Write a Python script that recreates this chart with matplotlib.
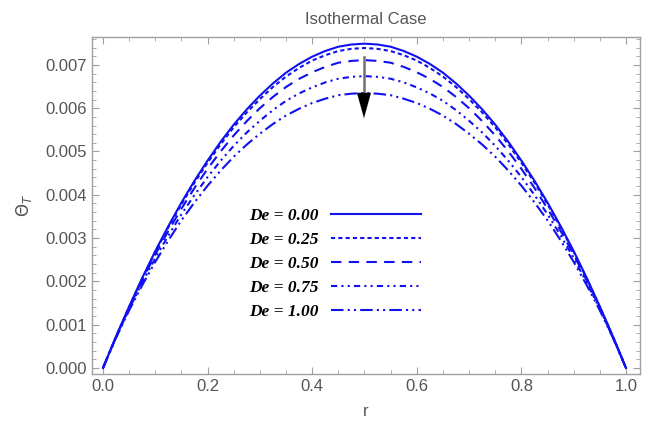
import matplotlib
matplotlib.use("Agg")
import matplotlib.pyplot as plt
from matplotlib.ticker import MultipleLocator

r = [0.000, 0.025, 0.050, 0.075, 0.100, 0.125, 0.150, 0.175, 0.200, 0.225,
     0.250, 0.275, 0.300, 0.325, 0.350, 0.375, 0.400, 0.425, 0.450, 0.475,
     0.500, 0.525, 0.550, 0.575, 0.600, 0.625, 0.650, 0.675, 0.700, 0.725,
     0.750, 0.775, 0.800, 0.825, 0.850, 0.875, 0.900, 0.925, 0.950, 0.975, 1.000]

# values from r = 0 to r = 0.5 (profiles are symmetric about r = 0.5)
half_de000 = [0, 0.000730, 0.00142, 0.002078, 0.00270, 0.003277, 0.00382, 0.004325, 0.00479, 0.005224,
              0.00562, 0.005973, 0.00629, 0.006572, 0.00682, 0.007022, 0.00719, 0.007321, 0.00742, 0.007471, 0.00749]
half_de025 = [0, 0.000727, 0.00141, 0.002063, 0.00268, 0.003248, 0.00378, 0.004281, 0.00474, 0.005166,
              0.00556, 0.005902, 0.00621, 0.006490, 0.00673, 0.006931, 0.00710, 0.007224, 0.00732, 0.007371, 0.00739]
half_de050 = [0, 0.000718, 0.00139, 0.002022, 0.00262, 0.003167, 0.00368, 0.004158, 0.00460, 0.005003,
              0.00537, 0.005702, 0.00600, 0.006260, 0.00649, 0.006677, 0.00683, 0.006954, 0.00705, 0.007092, 0.00711]
half_de075 = [0, 0.000707, 0.00136, 0.001968, 0.00254, 0.003060, 0.00355, 0.003996, 0.00441, 0.004787,
              0.00513, 0.005439, 0.00571, 0.005956, 0.00617, 0.006341, 0.00648, 0.006596, 0.00668, 0.006724, 0.00674]
half_de100 = [0, 0.000695, 0.00133, 0.001911, 0.00245, 0.002947, 0.00341, 0.003825, 0.00421, 0.004560,
              0.00488, 0.005161, 0.00541, 0.005635, 0.00583, 0.005987, 0.00612, 0.006219, 0.00630, 0.006335, 0.00635]

def mirror(h):
    return h + h[-2::-1]

theta_de000 = mirror(half_de000)
theta_de025 = mirror(half_de025)
theta_de050 = mirror(half_de050)
theta_de075 = mirror(half_de075)
theta_de100 = mirror(half_de100)

labels = ["De = 0.00", "De = 0.25", "De = 0.50", "De = 0.75", "De = 1.00"]
series = [theta_de000, theta_de025, theta_de050, theta_de075, theta_de100]
styles = ["-", (0, (2, 1.5)), (0, (5, 3.5)), (0, (3, 2, 1, 2, 1, 2)), (0, (6, 2, 1, 2, 1, 2))]

fig = plt.figure(figsize=(6.51, 4.21), dpi=100)
ax = fig.add_axes([92/651, 1-374/421, (640-92)/651, (374-37)/421])

blue = "#1010f0"
handles = []
for y, lab, ls in zip(series, labels, styles):
    h, = ax.plot(r, y, color=blue, lw=1.5, linestyle=ls, label=lab)
    handles.append(h)

ax.set_xlim(-0.021, 1.0268)
ax.set_ylim(-0.000139, 0.007644)

frame_c = "#a0a0a0"
text_c = "#555555"
for s in ax.spines.values():
    s.set_color(frame_c)
    s.set_linewidth(1.0)

ax.xaxis.set_major_locator(MultipleLocator(0.2))
ax.xaxis.set_minor_locator(MultipleLocator(0.05))
ax.yaxis.set_major_locator(MultipleLocator(0.001))
ax.yaxis.set_minor_locator(MultipleLocator(0.0002))
ax.xaxis.set_major_formatter(plt.FuncFormatter(lambda v, p: f"{v:.1f}"))
ax.yaxis.set_major_formatter(plt.FuncFormatter(lambda v, p: f"{v:.3f}"))
ax.tick_params(which="both", direction="in", top=True, right=True, color=frame_c,
               labelcolor=text_c, labelsize=12)
ax.tick_params(which="major", length=5)
ax.tick_params(which="minor", length=3)
for lab in ax.get_xticklabels() + ax.get_yticklabels():
    lab.set_fontfamily("Liberation Sans")

ax.set_title("Isothermal Case", color=text_c, fontsize=12, family="Liberation Sans", pad=9)
ax.set_xlabel("r", color=text_c, fontsize=12, family="Liberation Sans", labelpad=7)
ax.set_ylabel(r"$\Theta_T$", color=text_c, fontsize=12, labelpad=8)

# arrow
ax.plot([0.499, 0.499], [0.00718, 0.0062], color="#707070", lw=1.8)
ax.annotate("", xy=(0.499, 0.00577), xytext=(0.499, 0.0063),
            arrowprops=dict(arrowstyle="-|>,head_length=0.9,head_width=0.25",
                            color="black", mutation_scale=20, shrinkA=0, shrinkB=0, lw=0.1))

leg = ax.legend(handles=handles, labels=labels, markerfirst=False, frameon=False,
                loc="center", bbox_to_anchor=(0.444, 0.326),
                prop=dict(family="Liberation Serif", weight="bold", style="italic", size=12.5),
                handlelength=5.2, handletextpad=0.7, labelspacing=0.45)

fig.savefig("out.png", dpi=100)
